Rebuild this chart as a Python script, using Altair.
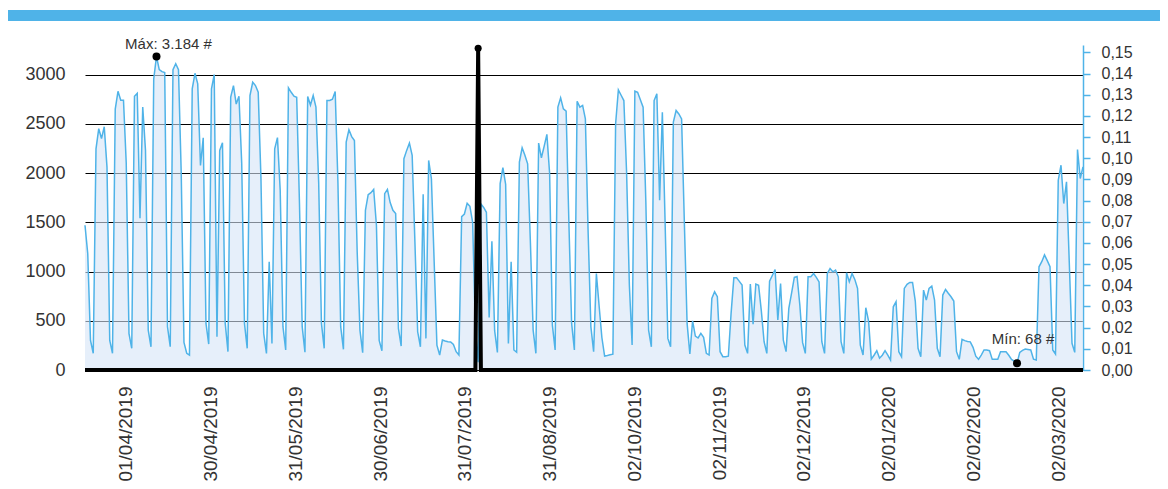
import altair as alt
import pandas as pd

START_DATE = "2019-03-17"

# Daily counts (#)
values_block_1 = [1470, 1180, 300, 170,
    2246, 2450, 2350, 2470, 2060, 300, 170,
    2650, 2830, 2740, 2740, 2100, 370, 220,
    2780, 2810, 1540, 2670, 2230, 405, 236,
    2955, 3184, 3050, 3030, 3020, 440, 236,
    3050, 3110, 3050, 2000, 280, 170, 152,
    2855, 3013, 2905, 2077, 2358, 473, 263,
    2855, 3000, 338, 2230, 2307, 473, 186,
    2770, 2888, 2700, 2780, 2100, 473, 220,
    2787, 2922, 2888, 2820, 1950, 372, 169]
values_block_2 = [
    1098, 270, 2246, 2360, 1824, 440, 203,
    2865, 2820, 2780, 2770, 1700, 440, 180,
    2777, 2690, 2787, 2669, 1900, 473, 220,
    2736, 2736, 2750, 2827, 1900, 440, 210,
    2314, 2439, 2370, 2330, 1200, 405, 176,
    1621, 1780, 1800, 1834, 1470, 300, 196,
    1790, 1834, 1700, 1621, 1588, 422, 243,
    2145, 2230, 2304, 2180, 1300, 388, 236,
    1784, 321, 2128, 1942, 1100, 253, 152,
    304, 295, 287, 285, 260, 186, 152,
    1557, 1584, 1693, 1662, 1500, 400, 80]
values_block_3 = [
    1686, 1650, 1601, 534, 1306, 399, 178,
    1892, 2054, 1885, 270, 1098, 203, 180,
    2111, 2256, 2180, 2094, 1300, 405, 169,
    2304, 2155, 2270, 2392, 1993, 456, 203,
    2669, 2763, 2652, 2628, 1500, 473, 203,
    2729, 2669, 2686, 2550, 1400, 439, 186,
    980, 650, 330, 142, 148, 155, 160,
    2500, 2844, 2790, 2736, 2000, 860, 253,
    2831, 2820, 2745, 2669, 1700, 405, 236,
    2736, 2804, 1723, 2618, 1500, 321, 236,
    2517, 2635, 2600, 2550, 1500, 473, 162]
values_block_4 = [
    500, 345, 325, 372, 331, 169, 152,
    727, 794, 744, 186, 135, 135, 140,
    575, 936, 936, 900, 862, 253, 169,
    872, 466, 872, 860, 600, 287, 169,
    902, 960, 1020, 507, 879, 304, 186,
    625, 780, 940, 950, 660, 280, 169,
    947, 947, 980, 940, 895, 287, 169,
    980, 1030, 997, 1014, 946, 287, 169,
    987, 895, 980, 920, 828, 253, 152]
values_block_5 = [
    632, 500, 110, 150, 196, 120, 150,
    196, 150, 101, 642, 693, 186, 135,
    828, 870, 889, 889, 700, 220, 135,
    811, 710, 828, 851, 710, 220, 135,
    761, 818, 780, 744, 700, 186, 108,
    311, 298, 290, 286, 230, 140, 108,
    152, 203, 203, 196, 108, 108, 108,
    186, 186, 186, 150, 108, 90, 68,
    179, 200, 213, 208, 203, 110, 101,
    1048, 1100, 1169, 1110, 1048, 203, 162,
    1927, 2079, 1690, 1910, 1100, 271, 179,
    2238, 1944, 2062]

# Second series (right axis): zero except one day
ratio_spike_date = "2019-08-07"
ratio_spike_value = 0.152

# x-axis labels (evenly spaced in the original chart)
x_tick_labels = ["01/04/2019", "30/04/2019", "31/05/2019", "30/06/2019",
                 "31/07/2019", "31/08/2019", "02/10/2019", "02/11/2019",
                 "02/12/2019", "02/01/2020", "02/02/2020", "02/03/2020"]
first_tick_day_offset = 14.9     # days after START_DATE
tick_step_days = 30.82
left_ticks = [0, 500, 1000, 1500, 2000, 2500, 3000]
right_ticks = [round(0.01 * k, 2) for k in range(16)]

counts = values_block_1 + values_block_2 + values_block_3 + values_block_4 + values_block_5
dates = pd.date_range(START_DATE, periods=len(counts), freq="D")
date_str = [d.strftime("%Y-%m-%d") for d in dates]
ratio = [ratio_spike_value if s == ratio_spike_date else 0.0 for s in date_str]
df = pd.DataFrame({"date": date_str, "count": counts, "ratio": ratio})

imax = counts.index(max(counts))
imin = counts.index(min(counts))
def fmt_es(v):
    return f"{v:,}".replace(",", ".")
ann = pd.DataFrame({
    "date": [date_str[imax], date_str[imin]],
    "count": [counts[imax], counts[imin]],
    "label": [f"Máx: {fmt_es(counts[imax])} #", f"Mín: {fmt_es(counts[imin])} #"],
})
spike = df[df["ratio"] > 0]

FONT = "Liberation Sans"
BLUE = "#4fb3e8"
TXT = "#333333"
DAY_MS = 86400000
start_ms = int(pd.Timestamp(START_DATE, tz="UTC").timestamp() * 1000)
end_ms = start_ms + (len(counts) - 1) * DAY_MS
tick_ms = [start_ms + (first_tick_day_offset + k * tick_step_days) * DAY_MS
           for k in range(len(x_tick_labels))]
n_ticks = len(x_tick_labels) - 1
label_expr = "[" + ",".join(f"'{s}'" for s in x_tick_labels) + f"][round(datum.index * {n_ticks})]"

xscale = alt.Scale(type="utc", domain=[start_ms, end_ms], nice=False)
x_enc = alt.X("date:T", scale=xscale, title=None,
              axis=alt.Axis(values=tick_ms, labelExpr=label_expr,
                            labelAngle=270, ticks=False, domain=False, grid=False,
                            labelFontSize=19, labelColor=TXT, labelFont=FONT,
                            labelPadding=16, labelOverlap=False))
yscale = alt.Scale(domain=[0, 3300], nice=False, zero=True)
y_enc = alt.Y("count:Q", scale=yscale, title=None,
              axis=alt.Axis(values=left_ticks, format="d", grid=True, gridColor="#000000",
                            gridWidth=1.2, ticks=False, domain=False, labelFontSize=18,
                            labelColor=TXT, labelFont=FONT, labelPadding=20,
                            labelOverlap=False))

base = alt.Chart(df)
area = base.mark_area(color="#d5e5f6", fillOpacity=0.6).encode(x=x_enc, y=y_enc)
line = base.mark_line(color=BLUE, strokeWidth=1.5).encode(x="date:T", y="count:Q")

header = alt.Chart(pd.DataFrame({"k": [0]})).mark_rect(color=BLUE).encode(
    x=alt.value(-77), x2=alt.value(1075), y=alt.value(-35), y2=alt.value(-24))

dots = alt.Chart(ann).mark_circle(color="black", size=64, opacity=1).encode(x="date:T", y="count:Q")
txt_max = alt.Chart(ann.iloc[[0]]).mark_text(font=FONT, fontSize=15, color=TXT, dx=12, dy=-12).encode(
    x="date:T", y="count:Q", text="label:N")
txt_min = alt.Chart(ann.iloc[[1]]).mark_text(font=FONT, fontSize=15, color=TXT, dx=6, dy=-24).encode(
    x="date:T", y="count:Q", text="label:N")

left = alt.layer(header, area, line, dots, txt_max, txt_min)

rscale = alt.Scale(domain=[0, 0.1535], nice=False)
right_axis = alt.Axis(orient="right", values=right_ticks, grid=False,
                      labelExpr="replace(format(datum.value, '.2f'), '.', ',')",
                      domainColor=BLUE, domainWidth=1.5, tickColor=BLUE, tickWidth=1.5,
                      tickSize=7, labelFontSize=16, labelColor=TXT, labelFont=FONT,
                      labelPadding=11, labelOverlap=False)
ratio_line = base.mark_line(color="black", strokeWidth=4).encode(
    x="date:T",
    y=alt.Y("ratio:Q", scale=rscale, title=None, axis=right_axis))
spike_dot = alt.Chart(spike).mark_circle(color="black", size=50, opacity=1).encode(
    x="date:T", y=alt.Y("ratio:Q", scale=rscale, title=None, axis=right_axis))
right = alt.layer(ratio_line, spike_dot)

chart = alt.layer(left, right).resolve_scale(y="independent").properties(
    width=998, height=325, autosize="none",
    padding={"left": 77, "top": 37, "right": 77, "bottom": 111},
).configure_view(stroke=None)

chart.save("out.html", embed_options={"renderer": "svg", "actions": False})
